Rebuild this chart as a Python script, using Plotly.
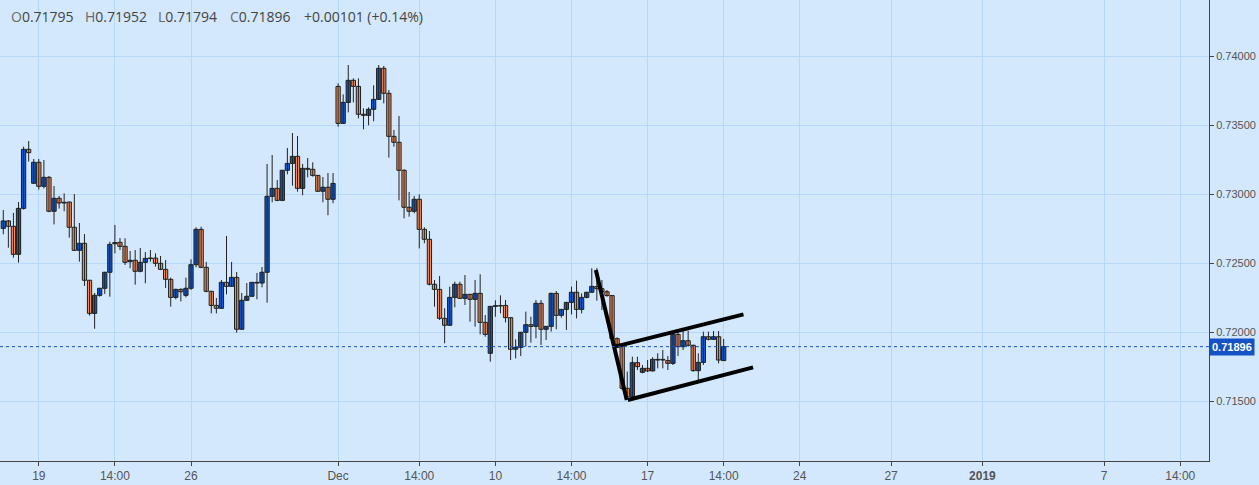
import plotly.graph_objects as go

# 4H candles (index 0 = first visible candle)
opens = [0.72753,0.72807,0.72768,0.72565,0.72898,0.73326,0.73080,0.73232,0.73058,0.73123,
         0.72877,0.72971,0.72937,0.72944,0.72761,0.72594,0.72645,0.72377,0.72137,0.72268,
         0.72319,0.72435,0.72642,0.72652,0.72623,0.72512,0.72522,0.72442,0.72507,0.72534,
         0.72538,0.72500,0.72456,0.72384,0.72253,0.72311,0.72268,0.72319,0.72490,0.72746,
         0.72471,0.72297,0.72195,0.72174,0.72362,0.72333,0.72398,0.72022,0.72232,0.72261,
         0.72357,0.72357,0.72435,0.72985,0.73043,0.72956,0.73174,0.73224,0.73275,0.73043,
         0.73188,0.73181,0.73137,0.73022,0.73051,0.72964,0.73782,0.73514,0.73666,0.73826,
         0.73782,0.73580,0.73572,0.73616,0.73688,0.73913,0.73732,0.73420,0.73377,0.73174,
         0.72906,0.72877,0.72964,0.72746,0.72674,0.72348,0.72311,0.72101,0.72051,0.72253,
         0.72348,0.72246,0.72275,0.72239,0.72282,0.72072,0.71848,0.72188,0.72191,0.72195,
         0.72106,0.71877,0.71891,0.72000,0.72055,0.72043,0.72210,0.72022,0.72043,0.72282,
         0.72123,0.72166,0.72217,0.72290,0.72166,0.72253,0.72290,0.72331,0.72316,0.72294,
         0.72266,0.71954,0.71913,0.71594,0.71534,0.71780,0.71710,0.71739,0.71720,0.71799,
         0.71804,0.71795,0.71775,0.71985,0.71896,0.71939,0.71906,0.71722,0.71782,0.71968,
         0.71949,0.71968,0.71795]
highs = [0.72886,0.72814,0.72865,0.72944,0.73345,0.73386,0.73256,0.73256,0.73249,0.73133,
         0.73060,0.72988,0.73007,0.72946,0.73002,0.72792,0.72712,0.72380,0.72285,0.72322,
         0.72438,0.72657,0.72778,0.72683,0.72681,0.72589,0.72596,0.72611,0.72582,0.72596,
         0.72572,0.72553,0.72524,0.72396,0.72316,0.72319,0.72396,0.72529,0.72761,0.72765,
         0.72510,0.72300,0.72249,0.72379,0.72698,0.72510,0.72437,0.72285,0.72357,0.72365,
         0.72430,0.72473,0.73220,0.73285,0.73104,0.73176,0.73336,0.73444,0.73422,0.73220,
         0.73263,0.73232,0.73140,0.73125,0.73154,0.73154,0.73804,0.73724,0.73937,0.73840,
         0.73840,0.73623,0.73630,0.73790,0.73937,0.73930,0.73756,0.73466,0.73567,0.73181,
         0.73017,0.72988,0.72999,0.72761,0.72734,0.72379,0.72408,0.72174,0.72331,0.72367,
         0.72367,0.72415,0.72278,0.72379,0.72420,0.72125,0.72190,0.72232,0.72268,0.72234,
         0.72108,0.71949,0.72003,0.72150,0.72113,0.72234,0.72234,0.72046,0.72287,0.72299,
         0.72169,0.72220,0.72331,0.72374,0.72282,0.72293,0.72464,0.72464,0.72379,0.72307,
         0.72270,0.71964,0.71916,0.71715,0.71823,0.71823,0.71763,0.71799,0.71819,0.71848,
         0.71872,0.71828,0.72005,0.72017,0.72017,0.72012,0.71910,0.71848,0.72005,0.72005,
         0.72009,0.72009,0.71952]
lows = [0.72710,0.72613,0.72541,0.72505,0.72889,0.73237,0.73075,0.73034,0.73043,0.72870,
        0.72782,0.72896,0.72877,0.72686,0.72590,0.72512,0.72336,0.72121,0.72026,0.72258,
        0.72278,0.72258,0.72572,0.72596,0.72488,0.72464,0.72345,0.72435,0.72355,0.72512,
        0.72476,0.72451,0.72321,0.72186,0.72239,0.72224,0.72253,0.72307,0.72471,0.72465,
        0.72290,0.72137,0.72137,0.72170,0.72275,0.72330,0.71997,0.72020,0.72230,0.72258,
        0.72239,0.72326,0.72215,0.72942,0.72950,0.72950,0.73145,0.73063,0.73019,0.72993,
        0.73123,0.73128,0.73018,0.72942,0.72848,0.72935,0.73490,0.73510,0.73594,0.73666,
        0.73550,0.73471,0.73500,0.73529,0.73685,0.73659,0.73266,0.73345,0.72956,0.72826,
        0.72838,0.72862,0.72608,0.72645,0.72340,0.72186,0.72089,0.71920,0.72048,0.72181,
        0.72243,0.72198,0.72077,0.72041,0.71985,0.71968,0.71787,0.72113,0.72137,0.72072,
        0.71799,0.71811,0.71828,0.71896,0.71925,0.71956,0.71908,0.71944,0.72005,0.72022,
        0.72106,0.72017,0.72130,0.72101,0.72137,0.72246,0.72287,0.72229,0.72162,0.72258,
        0.71949,0.71896,0.71582,0.71522,0.71530,0.71727,0.71703,0.71712,0.71717,0.71739,
        0.71739,0.71727,0.71763,0.71828,0.71872,0.71896,0.71715,0.71650,0.71763,0.71942,
        0.71944,0.71775,0.71794]
closes = [0.72807,0.72768,0.72565,0.72898,0.73326,0.73302,0.73232,0.73058,0.73123,0.72877,
          0.72971,0.72937,0.72942,0.72761,0.72594,0.72645,0.72377,0.72137,0.72268,0.72319,
          0.72435,0.72637,0.72650,0.72623,0.72507,0.72522,0.72442,0.72507,0.72536,0.72538,
          0.72500,0.72456,0.72384,0.72253,0.72311,0.72294,0.72319,0.72490,0.72746,0.72471,
          0.72297,0.72195,0.72174,0.72362,0.72333,0.72398,0.72022,0.72232,0.72261,0.72362,
          0.72362,0.72435,0.72985,0.73043,0.72956,0.73174,0.73224,0.73275,0.73043,0.73188,
          0.73181,0.73137,0.73022,0.73051,0.72964,0.73079,0.73514,0.73666,0.73826,0.73782,
          0.73580,0.73572,0.73616,0.73688,0.73913,0.73732,0.73420,0.73377,0.73174,0.72906,
          0.72877,0.72964,0.72746,0.72674,0.72348,0.72311,0.72101,0.72051,0.72253,0.72348,
          0.72246,0.72275,0.72239,0.72282,0.72072,0.71985,0.72188,0.72193,0.72193,0.72106,
          0.71877,0.71891,0.72000,0.72055,0.72043,0.72210,0.72022,0.72043,0.72282,0.72123,
          0.72166,0.72217,0.72290,0.72166,0.72253,0.72290,0.72333,0.72316,0.72294,0.72266,
          0.71954,0.71913,0.71594,0.71534,0.71780,0.71751,0.71739,0.71720,0.71804,0.71804,
          0.71799,0.71775,0.71985,0.71896,0.71939,0.71906,0.71722,0.71782,0.71968,0.71949,
          0.71968,0.71799,0.71896]
candle_index = list(range(len(opens)))

# time-axis labels and the candle index they sit on
x_tick_index = [7, 22, 37, 66, 82, 97, 112, 127, 142, 157, 175, 193, 217, 232]
x_tick_text = ["19", "14:00", "26", "Dec", "14:00", "10", "14:00", "17", "14:00",
               "24", "27", "<b>2019</b>", "7", "14:00"]
y_tick_values = [0.715, 0.720, 0.725, 0.730, 0.735, 0.740]

# hand-drawn pattern lines (candle index, price)
pole_line = [(116.8, 0.72451), (122.9, 0.71509)]
flag_upper = [(120.6, 0.71896), (145.9, 0.72130)]
flag_lower = [(123.1, 0.71509), (147.8, 0.71746)]

last_close = closes[-1]
header_keys = ["O", "H", "L", "C", ""]
header_vals = ["0.71795", "0.71952", "0.71794", "0.71896", "+0.00101 (+0.14%)"]
header_px = [9, 83, 156, 228, 302]

BG = "#d3e8fd"
GRID = "#b6d8fb"
UP = "#1058d6"
DOWN = "#f58b5c"
EDGE = "#1a1f1a"
BODY_W = 0.84

# wicks
wx, wy = [], []
for i, h, l in zip(candle_index, highs, lows):
    wx += [i, i, None]
    wy += [l, h, None]

fig = go.Figure()
fig.add_trace(go.Scatter(x=wx, y=wy, mode="lines", line=dict(color="#222", width=1),
                         hoverinfo="skip", showlegend=False))

for is_up, fill in ((True, UP), (False, DOWN)):
    xs, base, height = [], [], []
    for i, o, c in zip(candle_index, opens, closes):
        if (c >= o) == is_up:
            xs.append(i)
            base.append(min(o, c))
            height.append(max(abs(c - o), 0.00001))
    fig.add_trace(go.Bar(x=xs, y=height, base=base, width=BODY_W,
                         marker=dict(color=fill, line=dict(color=EDGE, width=1)),
                         hoverinfo="skip", showlegend=False))

for line in (pole_line, flag_upper, flag_lower):
    fig.add_shape(type="line", xref="x", yref="y",
                  x0=line[0][0], y0=line[0][1], x1=line[1][0], y1=line[1][1],
                  line=dict(color="#000000", width=4))

fig.add_shape(type="line", xref="paper", yref="y", x0=0, x1=1, y0=last_close, y1=last_close,
              line=dict(color="#1d4fb8", width=1, dash="dot"))

fig.add_annotation(xref="paper", yref="y", x=1.0, y=last_close, xanchor="left", yanchor="middle",
                   text="<b>%.5f</b>" % last_close, showarrow=False,
                   font=dict(color="white", size=11, family="Liberation Sans, Arial"),
                   bgcolor="#1552c6", borderpad=2, xshift=0)

for key, val, px in zip(header_keys, header_vals, header_px):
    txt = ("<span style='color:#6a6a6a'>%s</span>%s" % (key, val)) if key else val
    fig.add_annotation(xref="paper", yref="paper", x=px / 1209, y=1, xanchor="left", yanchor="top",
                       yshift=-5, text=txt, showarrow=False,
                       font=dict(color="#444", size=14, family="Open Sans, DejaVu Sans"))

fig.update_layout(
    width=1259, height=485,
    margin=dict(l=0, r=50, t=0, b=24),
    paper_bgcolor=BG, plot_bgcolor=BG, barmode="overlay",
    xaxis=dict(range=[-0.65, 237.67], tickvals=x_tick_index, ticktext=x_tick_text,
               showgrid=True, gridcolor=GRID, gridwidth=1, zeroline=False,
               ticks="outside", ticklen=4, tickcolor="#444", showline=True, linecolor="#444",
               linewidth=1, tickfont=dict(size=12, color="#555", family="Liberation Sans, Arial"),
               fixedrange=True),
    yaxis=dict(range=[0.710674, 0.74408], side="right", tickvals=y_tick_values, tickformat=".5f",
               showgrid=True, gridcolor=GRID, gridwidth=1, zeroline=False,
               ticks="outside", ticklen=4, tickcolor="#444", showline=True, linecolor="#444",
               linewidth=1, tickfont=dict(size=11, color="#555", family="Liberation Sans, Arial")),
)

fig.write_html("out.html", config={"displayModeBar": False},
               post_script="document.body.style.margin='0';document.body.style.background='%s';" % BG)
